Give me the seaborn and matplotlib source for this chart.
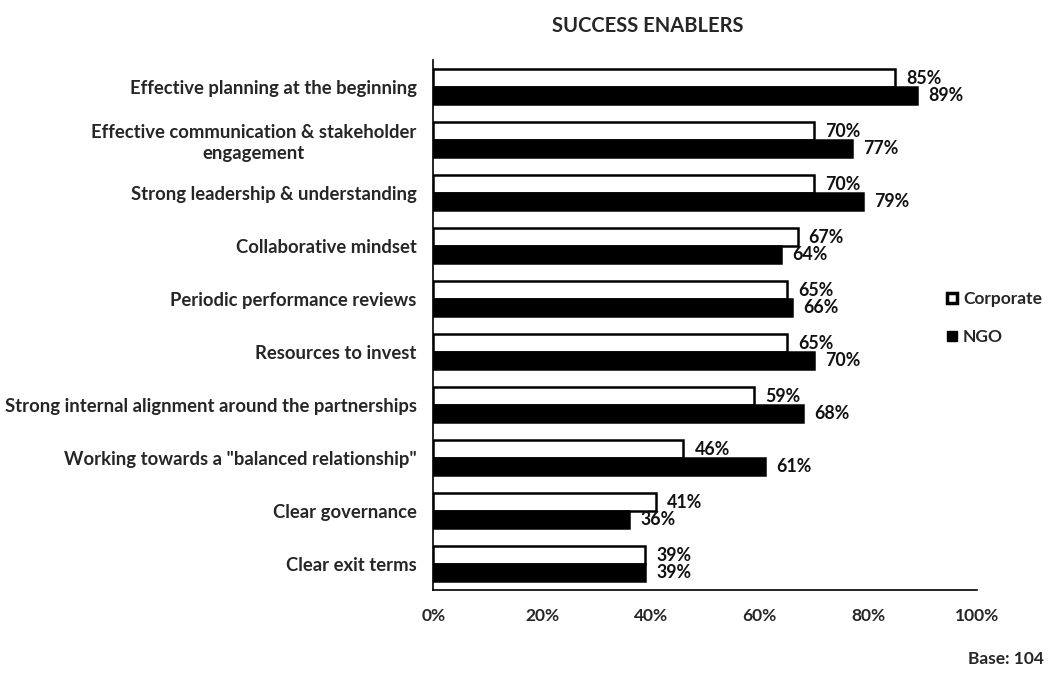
import matplotlib
matplotlib.use("Agg")
import matplotlib.pyplot as plt
import seaborn as sns
import pandas as pd
from matplotlib.patches import Patch

categories = [
    "Effective planning at the beginning",
    "Effective communication & stakeholder\nengagement",
    "Strong leadership & understanding",
    "Collaborative mindset",
    "Periodic performance reviews",
    "Resources to invest",
    "Strong internal alignment around the partnerships",
    'Working towards a "balanced relationship"',
    "Clear governance",
    "Clear exit terms",
]
corporate = [85, 70, 70, 67, 65, 65, 59, 46, 41, 39]
ngo = [89, 77, 79, 64, 66, 70, 68, 61, 36, 39]
series = ["Corporate", "NGO"]
xticks = [0, 20, 40, 60, 80, 100]

sns.set_theme(style="white")
plt.rcParams["font.family"] = ["Lato", "DejaVu Sans"]
plt.rcParams["font.weight"] = "bold"

FS = 12.5
FS_Y = 13.3

df = pd.DataFrame({
    "category": categories * 2,
    "value": corporate + ngo,
    "series": [series[0]] * len(categories) + [series[1]] * len(categories),
})

fig = plt.figure(figsize=(10.54, 6.77), dpi=100)
ax = fig.add_axes([0.411, 0.128, 0.516, 0.783])

sns.barplot(data=df, y="category", x="value", hue="series", order=categories,
            hue_order=series, palette=["white", "black"], edgecolor="black",
            linewidth=1.8, width=0.66, orient="h", ax=ax, legend=False)

for cont in ax.containers:
    ax.bar_label(cont, labels=[f"{int(round(v.get_width()))}%" for v in cont],
                 padding=8, fontsize=FS + 0.3, fontweight="bold", color="#111111")

ax.set_xlim(0, 100)
ax.set_xticks(xticks)
ax.set_xticklabels([f"{t}%" for t in xticks], fontsize=FS, fontweight="bold")
ax.tick_params(axis="x", length=0, pad=13)
ax.tick_params(axis="y", length=0, pad=12, labelsize=FS_Y)
for lab in ax.get_yticklabels():
    lab.set_fontweight("bold")
    lab.set_horizontalalignment("right")
    lab.set_multialignment("center")
    lab.set_linespacing(1.25)
ax.set_xlabel("")
ax.set_ylabel("")
ax.spines["top"].set_visible(False)
ax.spines["right"].set_visible(False)
ax.spines["left"].set_color("black")
ax.spines["bottom"].set_color("black")
ax.spines["left"].set_linewidth(1.2)
ax.spines["bottom"].set_linewidth(1.2)
ax.grid(False)

handles = [Patch(facecolor="white", edgecolor="black", linewidth=2.5, label="Corporate"),
           Patch(facecolor="black", edgecolor="black", label="NGO")]
fig.legend(handles=handles, loc="center left", bbox_to_anchor=(0.884, 0.53),
           frameon=False, handlelength=0.55, handleheight=0.55, handletextpad=0.35,
           labelspacing=1.25, prop={"weight": "bold", "size": FS})

fig.text(0.615, 0.962, "SUCCESS ENABLERS", ha="center", va="center",
         fontsize=14.5, fontweight="bold")
fig.text(0.99, 0.027, "Base: 104", ha="right", va="center",
         fontsize=FS, fontweight="bold")

fig.savefig("out.png", dpi=100)
